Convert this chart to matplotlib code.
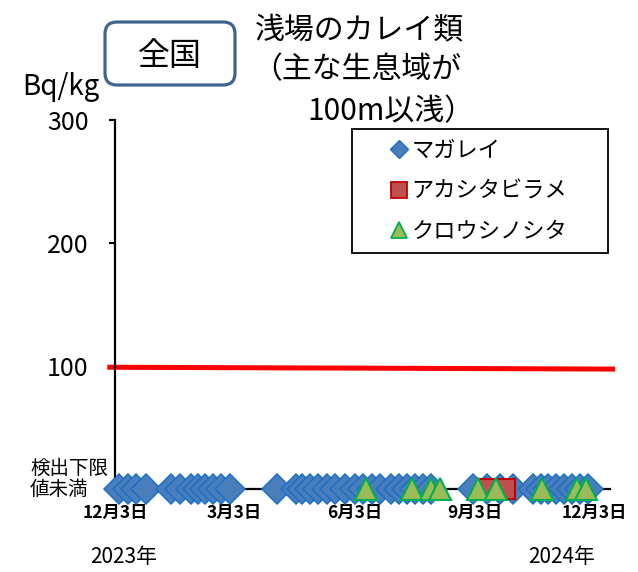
"""Flatfish (shallow) radioactivity chart, nationwide."""

import matplotlib

matplotlib.use("Agg")
import matplotlib.pyplot as plt
import pandas as pd
from matplotlib.lines import Line2D
from matplotlib.patches import FancyBboxPatch, Rectangle

# sampling dates (all results below detection limit -> plotted at 0)
magarei_dates = [
    "2023-12-06", "2023-12-13", "2023-12-19", "2023-12-27", "2024-01-15",
    "2024-01-22", "2024-01-30", "2024-02-04", "2024-02-10", "2024-02-16",
    "2024-02-22", "2024-02-29", "2024-04-05", "2024-04-19", "2024-04-24",
    "2024-04-30", "2024-05-06", "2024-05-13", "2024-05-19", "2024-05-27",
    "2024-06-03", "2024-06-09", "2024-06-16", "2024-06-22", "2024-07-01",
    "2024-07-07", "2024-07-13", "2024-07-19", "2024-07-25", "2024-07-31",
    "2024-09-01", "2024-09-12", "2024-09-22", "2024-10-02", "2024-10-17",
    "2024-10-23", "2024-10-29", "2024-11-04", "2024-11-10", "2024-11-16",
    "2024-11-22", "2024-11-28",
]
magarei_values = [
    0, 0, 0, 0, 0, 0, 0, 0, 0, 0, 0, 0, 0, 0, 0, 0, 0, 0, 0, 0, 0,
    0, 0, 0, 0, 0, 0, 0, 0, 0, 0, 0, 0, 0, 0, 0, 0, 0, 0, 0, 0, 0,
]
akashita_dates = ["2024-09-13", "2024-09-26"]
akashita_values = [0, 0]
kurousi_dates = [
    "2024-06-12", "2024-07-17", "2024-07-31", "2024-08-07", "2024-09-05",
    "2024-09-19", "2024-10-24", "2024-11-20", "2024-11-27",
]
kurousi_values = [0, 0, 0, 0, 0, 0, 0, 0, 0]

limit_dates = ["2023-11-29", "2024-12-17"]
limit_values = [99, 97.5]

tick_dates = ["2023-12-03", "2024-03-03", "2024-06-03", "2024-09-03", "2024-12-03"]
tick_labels = ["12月3日", "3月3日", "6月3日", "9月3日", "12月3日"]
y_ticks = [0, 100, 200, 300]
y_labels = ["", "100", "200", "300"]

W, H = 638, 572


def fx(x):
    return x / W


def fy(y):
    return 1 - y / H


plt.rcParams["font.family"] = ["Noto Sans CJK JP", "DejaVu Sans"]

fig = plt.figure(figsize=(W / 100, H / 100), dpi=100)
ax = fig.add_axes([fx(115), fy(489), (610 - 115) / W, (489 - 120) / H])

ax.plot(pd.to_datetime(limit_dates), limit_values, color="#FF0000", lw=3.6,
        clip_on=False, zorder=2)
ax.plot(pd.to_datetime(magarei_dates), magarei_values, ls="none", marker="D",
        ms=15.5, mfc="#4A7EBB", mec="#1C6FC6", mew=1.1, clip_on=False, zorder=3)
ax.plot(pd.to_datetime(akashita_dates), akashita_values, ls="none", marker="s",
        ms=15, mfc="#C0504D", mec="#C00000", mew=1.5, clip_on=False, zorder=4)
ax.plot(pd.to_datetime(kurousi_dates), kurousi_values, ls="none", marker="^",
        ms=16, mfc="#9BBB59", mec="#00B050", mew=1.5, clip_on=False, zorder=5)

ax.set_xlim(pd.Timestamp("2023-12-03"), pd.Timestamp("2024-12-15"))
ax.set_ylim(0, 300)
ax.set_xticks(pd.to_datetime(tick_dates), tick_labels)
ax.set_yticks(y_ticks, y_labels)
ax.tick_params(axis="x", length=0, pad=11, labelsize=12.5)
for lab in ax.get_xticklabels():
    lab.set_fontweight("bold")
ax.tick_params(axis="y", length=4, width=1.5, pad=15, labelsize=18, direction="out")
for side in ("top", "right"):
    ax.spines[side].set_visible(False)
for side in ("left", "bottom"):
    ax.spines[side].set_linewidth(1.6)
    ax.spines[side].set_color("black")

fig.text(fx(30), fy(479), "検出下限\n値未満", fontsize=14, ha="left",
         va="center", linespacing=1.0)
fig.text(fx(22), fy(87), "Bq/kg", fontsize=20, ha="left", va="center")
fig.text(fx(90), fy(557), "2023年", fontsize=15, ha="left", va="center")
fig.text(fx(528), fy(557), "2024年", fontsize=15, ha="left", va="center")

fig.text(fx(255), fy(31), "浅場のカレイ類", fontsize=21.5, ha="left", va="center")
fig.text(fx(252), fy(70), "（主な生息域が", fontsize=21.5, ha="left", va="center")
fig.text(fx(474), fy(112), "100m以浅）", fontsize=21.5, ha="right", va="center")

box = FancyBboxPatch((1.05, (H - 85) / 100), 1.30, 0.63,
                     boxstyle="round,pad=0,rounding_size=0.12",
                     transform=fig.dpi_scale_trans, fc="white", ec="#3F6390",
                     lw=2.3)
fig.patches.append(box)
fig.text(fx(170), fy(56), "全国", fontsize=23, ha="center", va="center")

frame = Rectangle((3.52, (H - 253) / 100), 2.56, 1.24,
                  transform=fig.dpi_scale_trans, fc="white", ec="black", lw=1.3)
fig.patches.append(frame)
handles = [
    Line2D([], [], ls="none", marker="D", ms=9, mfc="#4A7EBB", mec="#1C6FC6",
           mew=1.0),
    Line2D([], [], ls="none", marker="s", ms=11, mfc="#C0504D", mec="#C00000",
           mew=1.3),
    Line2D([], [], ls="none", marker="^", ms=12, mfc="#9BBB59", mec="#00B050",
           mew=1.3),
]
fig.legend(handles, ["マガレイ", "アカシタビラメ", "クロウシノシタ"],
           loc="upper left", bbox_to_anchor=(fx(388), fy(139)),
           frameon=False, fontsize=16, handlelength=0.95, handletextpad=0.1,
           labelspacing=0.78, borderpad=0, borderaxespad=0)

fig.savefig("out.png", dpi=100)
